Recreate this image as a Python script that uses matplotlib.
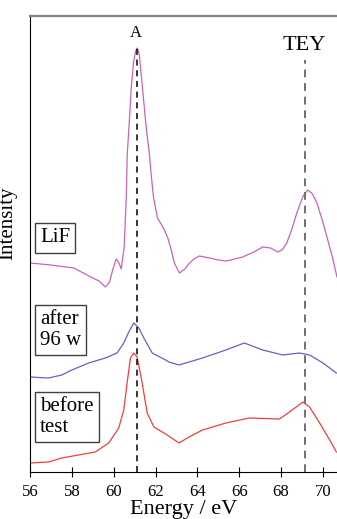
import matplotlib
matplotlib.use("Agg")
import matplotlib.pyplot as plt

plt.rcParams['font.family'] = ['Liberation Serif', 'DejaVu Serif']

# LiF reference (magenta)
lif_e = [56.0, 57.0, 58.1, 58.9, 59.3, 59.6, 59.8, 59.95, 60.12, 60.25, 60.36, 60.5,
         60.6, 60.65, 60.75, 60.84, 60.95, 61.05, 61.13, 61.22, 61.37, 61.55, 61.7,
         61.8, 61.9, 62.09, 62.35, 62.57, 62.75, 62.9, 63.14, 63.4, 63.62, 63.9, 64.1,
         64.58, 65.0, 65.4, 66.16, 66.7, 67.12, 67.5, 67.84, 68.05, 68.27, 68.5, 68.75,
         69.05, 69.28, 69.5, 69.71, 69.95, 70.19, 70.45, 70.67]
lif_i = [209, 207, 204, 195, 191, 185, 190, 202, 213, 209, 203, 225,
         275, 319, 352, 385, 410, 421, 424, 418, 385, 345, 319,
         295, 275, 254, 245, 235, 222, 209, 199, 203, 209, 214, 216,
         214, 212, 211, 215, 220, 225, 224, 220, 222, 229, 242, 259,
         276, 282, 278, 269, 253, 235, 215, 195]

# after 96 w (blue)
aft_e = [56.0, 56.88, 57.52, 58.0, 58.8, 59.6, 60.16, 60.48, 60.72, 60.96, 61.2,
         61.44, 61.84, 62.48, 62.64, 63.12, 64.24, 65.36, 66.24, 67.12, 68.08, 68.88,
         69.36, 70.0, 70.64]
aft_i = [95, 94, 97, 102, 109, 114, 119, 129, 140, 149, 144,
         134, 119, 112, 110, 107, 114, 122, 129, 122, 117, 119,
         117, 109, 99]

# before test (red)
bef_e = [56.0, 56.88, 57.52, 58.32, 59.12, 59.76, 60.24, 60.48, 60.64, 60.8, 60.96,
         61.12, 61.36, 61.6, 61.92, 62.48, 63.12, 63.6, 64.24, 65.36, 66.48, 67.92,
         68.4, 69.04, 69.36, 69.84, 70.32, 70.64]
bef_i = [9, 10, 14, 17, 20, 29, 44, 62, 89, 114, 119,
         115, 89, 59, 45, 38, 29, 35, 42, 49, 54, 53,
         60, 70, 65, 49, 32, 20]

fig = plt.figure(figsize=(3.37, 5.19), dpi=100)
ax = fig.add_axes([30 / 337, 1 - 472 / 519, 1 - 30 / 337, (472 - 16) / 519])

ax.plot(lif_e, lif_i, color='#c864b9', lw=0.9)
ax.plot(aft_e, aft_i, color='#6a5ec8', lw=0.9)
ax.plot(bef_e, bef_i, color='#f0403c', lw=0.9)

ax.plot([61.1, 61.1], [0, 426], color='black', lw=1.1, ls=(0, (4, 3)))
ax.plot([69.15, 69.15], [0, 412], color='#707070', lw=1.4, ls=(0, (4, 3)))
ax.text(61.05, 431, 'A', fontsize=12, ha='center', va='bottom')
ax.text(69.1, 417, 'TEY', fontsize=16, ha='center', va='bottom')

box = dict(boxstyle='square,pad=0.25', fc='white', ec='#404040', lw=1)
ax.text(56.48, 234, 'LiF', fontsize=15, va='center', bbox=box)
ax.text(56.48, 142, 'after\n96 w', fontsize=15, va='center', bbox=box, linespacing=1.1)
ax.text(56.48, 55, 'before\ntest', fontsize=15, va='center', bbox=box, linespacing=1.1)

ax.set_xlim(56, 70.67)
ax.set_ylim(0, 456)
ax.set_xticks([56, 58, 60, 62, 64, 66, 68, 70])
ax.set_yticks([])
ax.tick_params(axis='x', direction='inout', length=7, labelsize=12, pad=5)
ax.set_xlabel('Energy / eV', fontsize=16, labelpad=0)
ax.set_ylabel('Intensity', fontsize=15, labelpad=2)
ax.yaxis.set_label_coords(-0.04, 0.545)

ax.spines['right'].set_visible(False)
ax.spines['top'].set_color('#808080')
ax.spines['top'].set_linewidth(1.6)

fig.savefig('out.png', dpi=100)
